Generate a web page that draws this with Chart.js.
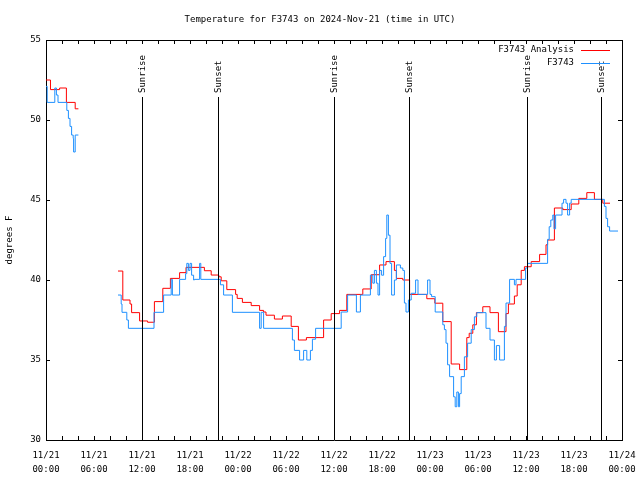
<!DOCTYPE html>
<html>
<head>
<meta charset="utf-8">
<script src="https://cdn.jsdelivr.net/npm/chart.js@4"></script>
<style>body{margin:0;background:#fff}</style>
</head>
<body>
<canvas id="tempChart" width="640" height="480"></canvas>
<script>
const FONT_FAMILY = '"DejaVu Sans Mono", monospace';

// hours since 2024-11-21 00:00 UTC; null breaks the line
const obsHours = [0, 0.15, 1.1, 1.3, 1.5, 2.6, 2.8, 3.0, 3.2, 3.4, 3.45, 3.65, 4.05, 6,
  9.0, 9.4, 9.5, 10.1, 10.3, 13.5, 14.7, 15.65, 15.8, 16.7, 17.45, 17.6, 17.8, 18.0, 18.2, 18.45,
  18.55, 19.2, 19.35, 21.8, 22.2, 23.3, 26.7, 26.9, 27.2, 30.8, 31.05, 31.7, 32.2, 32.6, 33.05,
  33.3, 33.7, 36.9, 37.7, 38.8, 39.3, 40.55, 40.85, 41.05, 41.3, 41.5, 41.7, 41.95, 42.2, 42.45,
  42.6, 42.8, 43.0, 43.2, 43.55, 43.8, 44.3, 44.6, 44.8, 45.0, 45.3, 45.65, 46.2, 46.5, 47.7,
  48.0, 48.2, 48.65, 49.6, 49.8, 50.0, 50.2, 50.45, 50.95, 51.15, 51.35, 51.55, 51.7, 51.9,
  52.3, 52.7, 53.15, 53.55, 53.85, 55.0, 55.5, 56.05, 56.3, 56.7, 57.3, 57.5, 57.95, 58.55,
  58.75, 59.95, 60.2, 62.7, 62.9, 63.1, 63.35, 63.5, 63.7, 64.5, 64.7, 65.0, 65.2, 65.45, 65.65,
  69.8, 70.0, 70.2, 70.45, 71.5];
const obsTemps = [52.1, 51.1, 52.0, 51.56, 51.1, 50.6, 50.1, 49.6, 49.06, 48.85, 48.0, 49.06, 49.06, null,
  39.06, 38.5, 37.98, 37.5, 36.98, 37.98, 39.06, 40.04, 39.06, 40.04, 40.4, 41.04, 40.6, 41.04, 40.3, 40.0,
  40.04, 41.04, 40.04, 39.7, 39.06, 37.98, 36.98, 37.98, 36.98, 36.25, 35.6, 35.0, 35.6, 35.0, 35.6,
  36.3, 36.98, 38.0, 39.06, 38.0, 39.06, 40.3, 39.8, 40.6, 39.8, 39.06, 40.6, 40.3, 41.46, 42.6,
  44.06, 42.8, 41.04, 39.06, 40.0, 40.94, 40.75, 40.6, 38.56, 38.0, 38.75, 39.17, 40.0, 39.1, 40.0,
  39.1, 38.96, 38.0, 37.2, 36.9, 36.05, 34.7, 33.96, 32.7, 32.08, 33.0, 32.08, 32.9, 33.96,
  35.2, 36.05, 36.9, 37.7, 37.96, 36.98, 36.25, 35.0, 35.9, 35.0, 37.1, 38.56, 40.04, 39.7,
  40.04, 40.75, 41.04, 42.54, 43.33, 43.75, 44.06, 43.2, 44.06, 44.8, 45.04, 44.8, 44.06, 44.8, 45.04,
  44.6, 43.85, 43.33, 43.06, 43.06];

const anaHours = [0, 0.56, 1.7, 2.55, 3.65, 4.05, 6,
  9.0, 9.6, 10.5, 10.7, 11.7, 12.7, 13.55, 14.6, 15.55, 16.7, 17.5, 19.8, 20.65, 21.6, 21.9,
  22.6, 23.7, 23.9, 24.55, 25.65, 26.7, 27.2, 27.5, 28.55, 29.55, 30.65, 31.55, 32.55, 34.7,
  35.65, 36.7, 37.6, 39.6, 40.65, 41.7, 42.5, 43.55, 43.8, 44.6, 45.45, 47.6, 48.6, 49.6,
  50.65, 51.7, 52.6, 52.9, 53.35, 53.8, 54.6, 55.5, 56.55, 57.5, 57.8, 58.55, 58.9, 59.4,
  59.8, 60.65, 61.7, 62.5, 62.7, 63.55, 64.6, 65.65, 66.6, 67.6, 68.55, 69.6, 70.5];
const anaTemps = [52.5, 51.9, 52.0, 51.1, 50.7, 50.7, null,
  40.56, 38.75, 38.5, 37.96, 37.44, 37.36, 38.65, 39.48, 40.1, 40.46, 40.79, 40.58, 40.31, 40.2, 39.95,
  39.4, 39.1, 38.85, 38.6, 38.4, 38.1, 38.0, 37.8, 37.56, 37.75, 37.1, 36.25, 36.4, 37.5,
  37.9, 38.1, 39.1, 39.44, 40.33, 40.94, 41.15, 40.6, 40.1, 40.0, 39.1, 38.83, 38.55, 37.4,
  34.75, 34.4, 36.4, 36.67, 37.2, 37.96, 38.33, 37.96, 36.77, 37.9, 38.5, 39.0, 39.7, 40.6,
  40.83, 41.15, 41.6, 42.2, 42.5, 44.5, 44.4, 44.75, 45.1, 45.46, 45.04, 44.8, 44.8];

const sunHours = [12.03, 21.48, 36.06, 45.35, 60.1, 69.35];
const sunLabels = ['Sunrise', 'Sunset', 'Sunrise', 'Sunset', 'Sunrise', 'Sunset'];

const tickDates = ['11/21', '11/21', '11/21', '11/21', '11/22', '11/22', '11/22', '11/22',
  '11/23', '11/23', '11/23', '11/23', '11/24'];
const tickTimes = ['00:00', '06:00', '12:00', '18:00', '00:00', '06:00', '12:00', '18:00',
  '00:00', '06:00', '12:00', '18:00', '00:00'];

const seriesNames = ['F3743 Analysis', 'F3743'];
const seriesColors = ['#ff0000', '#1e90ff'];

const toPoints = (xs, ys) => xs.map((h, i) => ({ x: h, y: ys[i] }));

const decorations = {
  id: 'decorations',
  afterDatasetsDraw(chart) {
    const { ctx, chartArea: a, scales: { x, y } } = chart;
    ctx.save();
    ctx.strokeStyle = '#000';
    ctx.lineWidth = 1;
    ctx.beginPath();
    // inward ticks on all four sides
    for (let h = 0; h <= 72; h += 2) {
      const px = Math.round(x.getPixelForValue(h)) + 0.5;
      ctx.moveTo(px, a.bottom); ctx.lineTo(px, a.bottom - 4);
      ctx.moveTo(px, a.top); ctx.lineTo(px, a.top + 4);
    }
    for (let t = 30; t <= 55; t += 5) {
      const py = Math.round(y.getPixelForValue(t)) + 0.5;
      ctx.moveTo(a.left, py); ctx.lineTo(a.left + 4, py);
      ctx.moveTo(a.right, py); ctx.lineTo(a.right - 4, py);
    }
    // sunrise / sunset lines
    sunHours.forEach(h => {
      const px = Math.round(x.getPixelForValue(h)) + 0.5;
      ctx.moveTo(px, 97); ctx.lineTo(px, a.bottom);
    });
    ctx.stroke();

    ctx.fillStyle = '#000';
    ctx.font = '9px ' + FONT_FAMILY;
    sunHours.forEach((h, i) => {
      const px = Math.round(x.getPixelForValue(h)) + 0.5;
      ctx.save();
      ctx.translate(px, 93);
      ctx.rotate(-Math.PI / 2);
      ctx.textAlign = 'left';
      ctx.textBaseline = 'middle';
      ctx.fillText(sunLabels[i], 0, 0);
      ctx.restore();
    });

    // title
    ctx.textAlign = 'center';
    ctx.textBaseline = 'middle';
    ctx.fillText('Temperature for F3743 on 2024-Nov-21 (time in UTC)', 320, 20);

    // y axis title
    ctx.save();
    ctx.translate(10, 240);
    ctx.rotate(-Math.PI / 2);
    ctx.fillText('degrees F', 0, 0);
    ctx.restore();

    // key
    ctx.textAlign = 'right';
    seriesNames.forEach((name, i) => {
      const ty = 50 + i * 13;
      ctx.fillStyle = '#000';
      ctx.fillText(name, 574, ty);
      ctx.strokeStyle = seriesColors[i];
      ctx.beginPath();
      ctx.moveTo(581, ty + 0.5);
      ctx.lineTo(610, ty + 0.5);
      ctx.stroke();
    });
    ctx.restore();
  }
};

const baseAxis = {
  grid: { display: false, drawTicks: false },
  border: { display: true, color: '#000', width: 1 }
};

new Chart(document.getElementById('tempChart'), {
  type: 'line',
  data: {
    datasets: [
      {
        label: seriesNames[1],
        data: toPoints(obsHours, obsTemps),
        borderColor: seriesColors[1],
        borderWidth: 1,
        pointRadius: 0,
        stepped: true,
        spanGaps: false,
        order: 0
      },
      {
        label: seriesNames[0],
        data: toPoints(anaHours, anaTemps),
        borderColor: seriesColors[0],
        borderWidth: 1,
        pointRadius: 0,
        stepped: true,
        spanGaps: false,
        order: 1
      }
    ]
  },
  options: {
    responsive: false,
    animation: false,
    devicePixelRatio: 1,
    layout: { padding: 0 },
    plugins: { legend: { display: false }, tooltip: { enabled: false } },
    scales: {
      x: {
        ...baseAxis,
        type: 'linear',
        position: 'bottom',
        min: 0, max: 72,
        ticks: {
          stepSize: 6,
          autoSkip: false,
          maxRotation: 0,
          padding: 8,
          color: '#000',
          font: { family: FONT_FAMILY, size: 9, lineHeight: 1.6 },
          callback: v => { const i = Math.round(v / 6); return [tickDates[i], tickTimes[i]]; }
        },
        afterFit: s => { s.height = 40; s.paddingLeft = 0; s.paddingRight = 0; }
      },
      xTop: {
        ...baseAxis,
        type: 'linear',
        position: 'top',
        min: 0, max: 72,
        ticks: { display: false },
        afterFit: s => { s.height = 40; s.paddingLeft = 0; s.paddingRight = 0; }
      },
      y: {
        ...baseAxis,
        type: 'linear',
        position: 'left',
        min: 30, max: 55,
        ticks: {
          stepSize: 5,
          padding: 5,
          color: '#000',
          font: { family: FONT_FAMILY, size: 9 }
        },
        afterFit: s => { s.width = 46; s.paddingTop = 0; s.paddingBottom = 0; }
      },
      yRight: {
        ...baseAxis,
        type: 'linear',
        position: 'right',
        min: 30, max: 55,
        ticks: { display: false },
        afterFit: s => { s.width = 18; s.paddingTop = 0; s.paddingBottom = 0; }
      }
    }
  },
  plugins: [decorations]
});
</script>
</body>
</html>
